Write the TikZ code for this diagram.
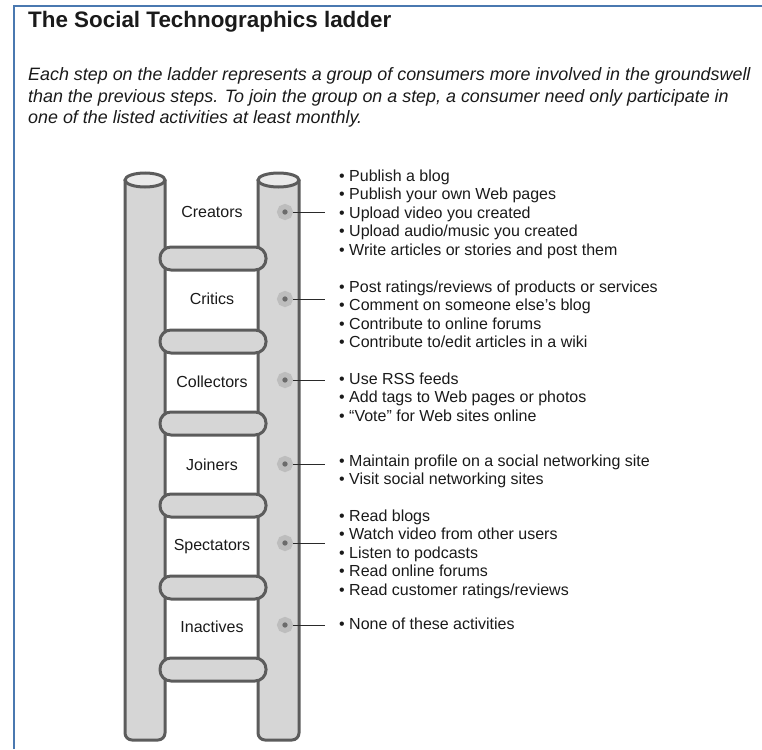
\documentclass[tikz,border=0pt]{standalone}
\usepackage{fontspec}
\setmainfont{Liberation Sans}
\definecolor{framecol}{HTML}{4A78B0}
\definecolor{railedge}{HTML}{5C5C5C}
\definecolor{railfill}{HTML}{D6D6D6}
\definecolor{railtopfill}{HTML}{EAEAEA}
\definecolor{textcol}{HTML}{1A1A1A}
\definecolor{halocol}{HTML}{BDBDBD}
\definecolor{dotcol}{HTML}{6B6B6B}
\definecolor{linkcol}{HTML}{2A2A2A}
\begin{document}
\begin{tikzpicture}[x=1pt,y=-1pt,
  frame/.style={draw=framecol, line width=2.5pt},
  rail/.style={draw=railedge, fill=railfill, line width=3pt, rounded corners=7pt},
  railtop/.style={draw=railedge, fill=railtopfill, line width=3pt},
  rung/.style={draw=railedge, fill=railfill, line width=3pt, rounded corners=11pt},
  steplabel/.style={anchor=base, inner sep=0pt, text=textcol, font=\fontsize{16}{19}\selectfont},
  dot/.style={circle, inner sep=0pt, minimum size=11pt, fill=dotcol, draw=halocol, line width=5pt},
  item/.style={anchor=base west, inner sep=0pt, text=textcol, font=\fontsize{16}{18.6}\selectfont},
  link/.style={draw=linkcol, line width=1pt}
]
\useasboundingbox (0,0) rectangle (762,749);

% blue frame (top and left edges)
\draw[frame] (14,749) -- (14,6) -- (762,6);

% heading and intro text
\node[anchor=base west, inner sep=0pt, text=textcol, font=\bfseries\fontsize{22.4}{27}\selectfont] (title) at (28,28) {The Social Technographics ladder};
\begin{scope}[every node/.style={anchor=base west, inner sep=0pt, text=textcol, font=\itshape\fontsize{17.9}{21.5}\selectfont}]
  \node (intro1) at (28,81) {Each step on the ladder represents a group of consumers more involved in the groundswell};
  \node (intro2) at (28,102.5) {than the previous steps. To join the group on a step, a consumer need only participate in};
  \node (intro3) at (28,124) {one of the listed activities at least monthly.};
\end{scope}

% ladder rails
\draw[rail] (125,180) -- (125,740) -- (165,740) -- (165,180);
\draw[rail] (258,180) -- (258,740) -- (299,740) -- (299,180);
\draw[railtop] (145,180) ellipse [x radius=20pt, y radius=7pt];
\draw[railtop] (278.5,180) ellipse [x radius=20.5pt, y radius=7pt];

% rungs
\foreach \y in {247,330,412,494,576,658}
  \draw[rung] (160,\y) rectangle (266,\y+23);

% step names
\node[steplabel] (creators)   at (212,217) {Creators};
\node[steplabel] (critics)    at (212,304) {Critics};
\node[steplabel] (collectors) at (212,387) {Collectors};
\node[steplabel] (joiners)    at (212,470) {Joiners};
\node[steplabel] (spectators) at (212,550) {Spectators};
\node[steplabel] (inactives)  at (212,632) {Inactives};

% markers on the right rail and their leader lines
\foreach \n/\y in {cr/212,ct/299,co/380,jo/464,sp/543,in/625}{
  \node[dot] (\n dot) at (285,\y) {};
  \coordinate (\n end) at (325,\y);
  \draw[link] (\n dot) -- (\n end);
}

% activity lists
\newcommand\activities[3]{%
  \foreach \t [count=\i from 0] in {#3}
    \node[item] (#1\i) at (349,{#2+18.6*\i}) {\llap{\textbullet\hspace{4.5pt}}\t};
}
\activities{cri}{181}{Publish a blog, Publish your own Web pages, Upload video you created, Upload audio/music you created, Write articles or stories and post them}
\activities{cti}{292}{Post ratings/reviews of products or services, Comment on someone else’s blog, Contribute to online forums, Contribute to/edit articles in a wiki}
\activities{coi}{384}{Use RSS feeds, Add tags to Web pages or photos, “Vote” for Web sites online}
\activities{joi}{466}{Maintain profile on a social networking site, Visit social networking sites}
\activities{spi}{521}{Read blogs, Watch video from other users, Listen to podcasts, Read online forums, Read customer ratings/reviews}
\activities{ini}{629}{None of these activities}
\end{tikzpicture}
\end{document}
